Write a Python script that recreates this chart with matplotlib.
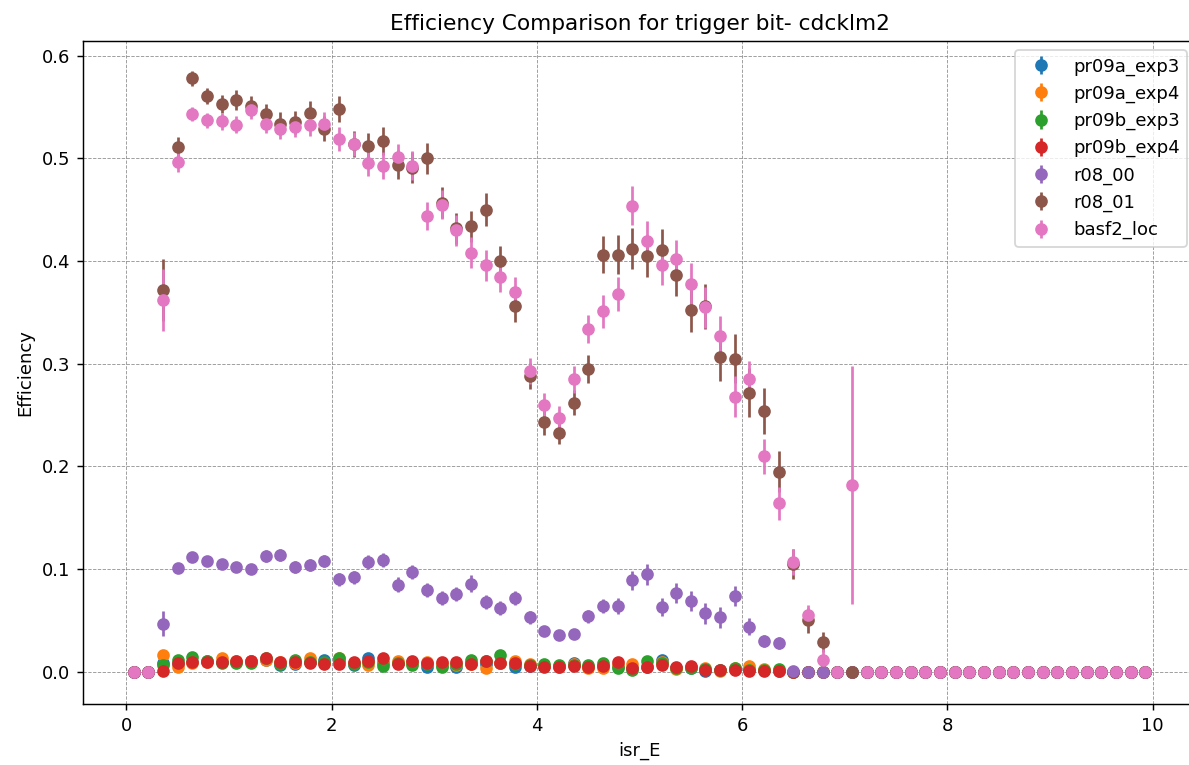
import numpy as np
import matplotlib
matplotlib.use("Agg")
import matplotlib.pyplot as plt

# isr_E bin centres: 70 bins of width 1/7 between 0 and 10
bin_edges = np.linspace(0, 10, 71)
isr_E = 0.5 * (bin_edges[:-1] + bin_edges[1:])

labels = ["pr09a_exp3", "pr09a_exp4", "pr09b_exp3", "pr09b_exp4",
          "r08_00", "r08_01", "basf2_loc"]

pr09a_exp3 = [0, 0, 0.009, 0.008, 0.010, 0.011, 0.010, 0.010, 0.011, 0.012,
              0.007, 0.008, 0.010, 0.012, 0.011, 0.007, 0.013, 0.009, 0.009, 0.010,
              0.005, 0.007, 0.005, 0.009, 0.008, 0.009, 0.005, 0.006, 0.006, 0.006,
              0.009, 0.005, 0.006, 0.006, 0.004, 0.005, 0.012, 0.004, 0.004, 0.001,
              0.002, 0.003, 0.003, 0.002, 0.001, 0, 0, 0, 0, 0,
              0, 0, 0, 0, 0, 0, 0, 0, 0, 0,
              0, 0, 0, 0, 0, 0, 0, 0, 0, 0]
pr09a_exp4 = [0, 0, 0.016, 0.005, 0.009, 0.010, 0.013, 0.011, 0.011, 0.012,
              0.010, 0.009, 0.013, 0.009, 0.013, 0.009, 0.007, 0.010, 0.011, 0.009,
              0.010, 0.008, 0.007, 0.008, 0.004, 0.009, 0.011, 0.008, 0.006, 0.005,
              0.008, 0.004, 0.004, 0.007, 0.008, 0.006, 0.010, 0.003, 0.005, 0.004,
              0.001, 0.004, 0.006, 0.003, 0.002, 0, 0, 0, 0, 0,
              0, 0, 0, 0, 0, 0, 0, 0, 0, 0,
              0, 0, 0, 0, 0, 0, 0, 0, 0, 0]
pr09b_exp3 = [0, 0, 0.007, 0.012, 0.014, 0.011, 0.009, 0.009, 0.009, 0.013,
              0.008, 0.012, 0.010, 0.010, 0.013, 0.008, 0.010, 0.006, 0.009, 0.007,
              0.008, 0.005, 0.008, 0.012, 0.011, 0.016, 0.008, 0.007, 0.008, 0.007,
              0.007, 0.007, 0.009, 0.004, 0.002, 0.011, 0.009, 0.004, 0.004, 0.003,
              0.002, 0.004, 0.002, 0.002, 0.003, 0, 0, 0, 0, 0,
              0, 0, 0, 0, 0, 0, 0, 0, 0, 0,
              0, 0, 0, 0, 0, 0, 0, 0, 0, 0]
pr09b_exp4 = [0, 0, 0.001, 0.009, 0.010, 0.010, 0.010, 0.011, 0.011, 0.013,
              0.010, 0.010, 0.009, 0.008, 0.008, 0.010, 0.011, 0.013, 0.008, 0.011,
              0.009, 0.010, 0.010, 0.008, 0.011, 0.009, 0.009, 0.006, 0.005, 0.005,
              0.006, 0.005, 0.006, 0.010, 0.004, 0.005, 0.007, 0.005, 0.006, 0.002,
              0.002, 0.002, 0.001, 0.001, 0.001, 0, 0, 0, 0, 0,
              0, 0, 0, 0, 0, 0, 0, 0, 0, 0,
              0, 0, 0, 0, 0, 0, 0, 0, 0, 0]
low_err = 0.002

r08_00 = [0, 0, 0.047, 0.101, 0.112, 0.108, 0.105, 0.102, 0.100, 0.113,
          0.114, 0.102, 0.104, 0.108, 0.090, 0.092, 0.107, 0.109, 0.085, 0.097,
          0.080, 0.072, 0.076, 0.086, 0.068, 0.062, 0.072, 0.053, 0.040, 0.036,
          0.037, 0.054, 0.064, 0.064, 0.089, 0.095, 0.063, 0.077, 0.069, 0.057,
          0.053, 0.074, 0.044, 0.030, 0.028, 0.001, 0, 0, 0, 0,
          0, 0, 0, 0, 0, 0, 0, 0, 0, 0,
          0, 0, 0, 0, 0, 0, 0, 0, 0, 0]
r08_00_err = [0, 0, 0.012, 0.005, 0.005, 0.005, 0.005, 0.005, 0.005, 0.006,
              0.006, 0.006, 0.006, 0.006, 0.006, 0.006, 0.007, 0.007, 0.007, 0.007,
              0.007, 0.007, 0.007, 0.008, 0.007, 0.007, 0.007, 0.006, 0.005, 0.005,
              0.005, 0.006, 0.007, 0.008, 0.009, 0.010, 0.009, 0.010, 0.010, 0.010,
              0.010, 0.010, 0.008, 0.006, 0.006, 0.002, 0, 0, 0, 0,
              0, 0, 0, 0, 0, 0, 0, 0, 0, 0,
              0, 0, 0, 0, 0, 0, 0, 0, 0, 0]

r08_01 = [0, 0, 0.372, 0.511, 0.578, 0.561, 0.553, 0.557, 0.551, 0.543,
          0.534, 0.535, 0.544, 0.529, 0.548, 0.514, 0.512, 0.517, 0.494, 0.491,
          0.500, 0.457, 0.432, 0.434, 0.450, 0.400, 0.356, 0.288, 0.243, 0.233,
          0.262, 0.295, 0.406, 0.406, 0.412, 0.405, 0.411, 0.386, 0.352, 0.356,
          0.307, 0.305, 0.272, 0.254, 0.195, 0.105, 0.050, 0.029, 0, 0,
          0, 0, 0, 0, 0, 0, 0, 0, 0, 0,
          0, 0, 0, 0, 0, 0, 0, 0, 0, 0]
r08_01_err = [0, 0, 0.030, 0.010, 0.007, 0.008, 0.009, 0.010, 0.010, 0.010,
              0.011, 0.011, 0.012, 0.012, 0.013, 0.013, 0.013, 0.014, 0.014, 0.015,
              0.015, 0.015, 0.015, 0.015, 0.016, 0.015, 0.015, 0.013, 0.012, 0.011,
              0.012, 0.014, 0.018, 0.019, 0.020, 0.020, 0.020, 0.020, 0.021, 0.022,
              0.024, 0.024, 0.024, 0.022, 0.020, 0.015, 0.012, 0.010, 0, 0,
              0, 0, 0, 0, 0, 0, 0, 0, 0, 0,
              0, 0, 0, 0, 0, 0, 0, 0, 0, 0]

basf2_loc = [0, 0, 0.362, 0.497, 0.543, 0.537, 0.536, 0.533, 0.547, 0.534,
             0.529, 0.531, 0.533, 0.534, 0.519, 0.514, 0.496, 0.493, 0.501, 0.493,
             0.444, 0.455, 0.430, 0.408, 0.396, 0.385, 0.370, 0.293, 0.260, 0.247,
             0.285, 0.334, 0.351, 0.368, 0.454, 0.420, 0.396, 0.402, 0.378, 0.355,
             0.327, 0.268, 0.285, 0.210, 0.164, 0.107, 0.055, 0.012, 0, 0.182,
             0, 0, 0, 0, 0, 0, 0, 0, 0, 0,
             0, 0, 0, 0, 0, 0, 0, 0, 0, 0]
basf2_loc_err = [0, 0, 0.030, 0.010, 0.007, 0.007, 0.008, 0.008, 0.009, 0.009,
                 0.010, 0.010, 0.011, 0.011, 0.012, 0.012, 0.013, 0.013, 0.013, 0.014,
                 0.014, 0.014, 0.015, 0.015, 0.015, 0.015, 0.015, 0.013, 0.012, 0.012,
                 0.013, 0.014, 0.016, 0.017, 0.019, 0.019, 0.019, 0.019, 0.020, 0.020,
                 0.020, 0.020, 0.018, 0.017, 0.016, 0.013, 0.010, 0.010, 0, 0.116,
                 0, 0, 0, 0, 0, 0, 0, 0, 0, 0,
                 0, 0, 0, 0, 0, 0, 0, 0, 0, 0]

series = [(pr09a_exp3, low_err), (pr09a_exp4, low_err), (pr09b_exp3, low_err),
          (pr09b_exp4, low_err), (r08_00, r08_00_err), (r08_01, r08_01_err),
          (basf2_loc, basf2_loc_err)]

dpi = 130
fig = plt.figure(figsize=(1189 / dpi, 765 / dpi), dpi=dpi)
# right edge of the axes sits just past the canvas, as in the original crop
ax = fig.add_axes([0.0698, 0.0797, 0.9361, 0.8667])

for (vals, err), lab in zip(series, labels):
    ax.errorbar(isr_E, vals, yerr=err, fmt='o', label=lab)

ax.set_title("Efficiency Comparison for trigger bit- cdcklm2")
ax.set_xlabel("isr_E")
ax.set_ylabel("Efficiency")
ax.grid(True, linestyle='--', color='gray', linewidth=0.5, alpha=0.8)
ax.legend(loc='upper right')

fig.savefig("out.png", dpi=dpi)
